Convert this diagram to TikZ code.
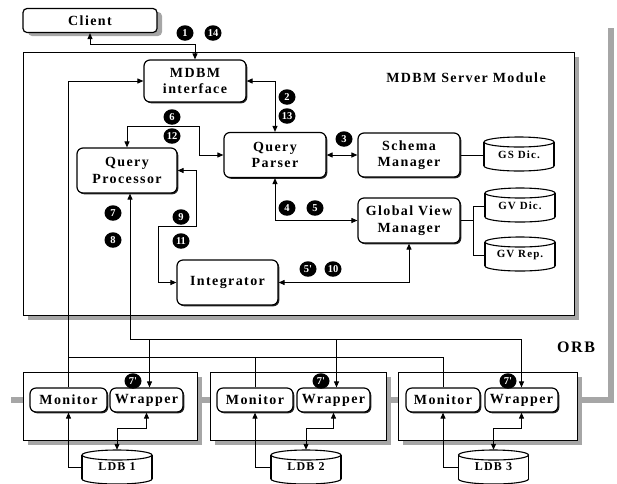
\documentclass[tikz,border=0pt]{standalone}
\usepackage{fontspec}
\setmainfont{Liberation Serif}[LetterSpace=10]
\newfontfamily\badgefont{Liberation Serif}
\usetikzlibrary{arrows.meta,shapes.geometric,shadows,calc}
\newcommand\dbcyl[2]{%
  \filldraw[dbline] (#1,#2+12) ellipse [x radius=35, y radius=5];
  \fill[white] (#1-35,#2-12) rectangle (#1+35,#2+12);
  \draw[dbline] (#1-35,#2-12) -- (#1-35,#2+12) (#1+35,#2-12) -- (#1+35,#2+12);
  \filldraw[dbline] (#1,#2-12) ellipse [x radius=35, y radius=5];
}
\begin{document}
\begin{tikzpicture}[x=1pt,y=-1pt,
  every node/.style={font=\fontsize{14}{16.5}\selectfont\bfseries, align=center},
  box/.style={draw, rounded corners=6pt, line width=1.2pt, fill=white, inner sep=0pt,
    drop shadow={shadow xshift=1.3pt, shadow yshift=-1.3pt, fill=black, opacity=0.85}},
  clientbox/.style={draw, rounded corners=4pt, line width=1.2pt, fill=white, inner sep=0pt,
    drop shadow={shadow xshift=5pt, shadow yshift=-3.5pt, fill=gray!70, opacity=1}},
  serverbox/.style={draw, line width=0.8pt, fill=white, inner sep=0pt,
    drop shadow={shadow xshift=5pt, shadow yshift=-5pt, fill=gray!70, opacity=1}},
  dbline/.style={line width=1.1pt, draw=black, fill=white},
  dbnode/.style={inner sep=0pt, minimum width=70pt, minimum height=34pt, font=\fontsize{11}{12}\selectfont\bfseries},
  conn/.style={line width=1pt},
  badge/.style={ellipse, fill=black, text=white, inner sep=0pt, outer sep=0pt,
    minimum width=17pt, minimum height=15.5pt,
    font=\badgefont\fontsize{10.5}{10.5}\selectfont\bfseries},
  orb/.style={line width=5.5pt, draw=gray!70},
  >={Triangle[length=6pt,width=5pt]}
]
\useasboundingbox (0,0) rectangle (617,483);

% big frames
\node[serverbox, minimum width=551pt, minimum height=263pt] (server) at (298.5,183.5) {};
\coordinate (orbL) at (11,400);
\coordinate (orbT) at (611,28);
\draw[orb] (orbL) -- (23,400);
\draw[orb] (200,400) -- (212,400);
\draw[orb] (386,400) -- (399,400);
\draw[orb] (578,400) -| (orbT);
\node[serverbox, minimum width=174pt, minimum height=68pt] (site1) at (110,406) {};
\node[serverbox, minimum width=176pt, minimum height=68pt] (site2) at (298,406) {};
\node[serverbox, minimum width=179pt, minimum height=68pt] (site3) at (487.5,406) {};

\node (title) at (466,78) {MDBM Server Module};
\node[font=\fontsize{16}{16}\selectfont\bfseries] (orblabel) at (576,347) {ORB};

% client and modules
\node[clientbox, minimum width=134pt, minimum height=24pt] (client) at (90,20.5) {Client};
\node[box, minimum width=102pt, minimum height=42pt] (mdbm) at (195,81) {MDBM\\interface};
\node[box, minimum width=100pt, minimum height=45pt] (qp) at (127,170.5) {Query\\Processor};
\node[box, minimum width=102pt, minimum height=45pt] (qparser) at (275,155) {Query\\Parser};
\node[box, minimum width=102pt, minimum height=44pt] (schema) at (409,155) {Schema\\Manager};
\node[box, minimum width=102pt, minimum height=45pt] (gvm) at (409,220.5) {Global View\\Manager};
\node[box, minimum width=101pt, minimum height=45pt] (integ) at (227.5,282.5) {Integrator};

% databases
\dbcyl{519}{154}
\node[dbnode] (gsdic) at (519,155) {GS Dic.};
\dbcyl{520}{205}
\node[dbnode] (gvdic) at (520,206) {GV Dic.};
\dbcyl{520}{254}
\node[dbnode] (gvrep) at (520,255) {GV Rep.};
\dbcyl{117}{467}
\node[dbnode, font=\fontsize{12}{12}\selectfont\bfseries] (ldb1) at (117,467) {LDB 1};
\dbcyl{306}{467}
\node[dbnode, font=\fontsize{12}{12}\selectfont\bfseries] (ldb2) at (306,467) {LDB 2};
\dbcyl{493.5}{467}
\node[dbnode, font=\fontsize{12}{12}\selectfont\bfseries] (ldb3) at (493.5,467) {LDB 3};

% local sites
\node[box, minimum width=77pt, minimum height=24pt] (mon1) at (68.5,400) {Monitor};
\node[box, minimum width=73pt, minimum height=24pt] (wrap1) at (146.5,400) {Wrapper};
\node[box, minimum width=76pt, minimum height=24pt] (mon2) at (255,400) {Monitor};
\node[box, minimum width=73pt, minimum height=24pt] (wrap2) at (333.5,400) {Wrapper};
\node[box, minimum width=74pt, minimum height=24pt] (mon3) at (443,400) {Monitor};
\node[box, minimum width=73pt, minimum height=24pt] (wrap3) at (521.5,400) {Wrapper};

% connectors
\draw[conn,<->] (client.south) -- ++(0,11) -| (mdbm.north);
\draw[conn,<->] (mdbm.east) -| (qparser.north);
\draw[conn,<->] (qp.north) -- ++(0,-21) -| ($(qparser.west)+(-24,0)$) -- (qparser.west);
\draw[conn,<->] (qparser.east) -- (schema.west);
\draw[conn] (schema.east) -- (gsdic.west);
\draw[conn,<->] (qparser.south) |- (gvm.west);
\draw[conn] (gvm.east) -- ++(13,0);
\draw[conn] (gvdic.west) -| ($(gvm.east)+(13,0)$) |- (gvrep.west);
\draw[conn,<->] (qp.east) -- ++(19,0) |- ++(-38,56) |- (integ.west);
\draw[conn,<->] (integ.east) -| (gvm.south);

% to monitors
\draw[conn,->] (mon1.north) |- (mdbm.west);
\draw[conn] (mon3.north) -- ++(0,-30) -| (mon1.north);
\draw[conn] (mon2.north) -- ++(0,-30);
% to wrappers
\coordinate (qpb) at ($(qp.south)+(3,0)$);
\draw[conn,<->] (qpb) |- ($(wrap3.north)+(0,-48)$) -- (wrap3.north);
\draw[conn,->] ($(wrap1.north)+(3,-48)$) -- ($(wrap1.north)+(3,0)$);
\draw[conn,->] ($(wrap2.north)+(3,-48)$) -- ($(wrap2.north)+(3,0)$);
% local databases
\draw[conn,<->] (wrap1.south) -- ++(0,16) -| (ldb1.north);
\draw[conn,<->] (wrap2.south) -- ++(0,16) -| (ldb2.north);
\draw[conn,<->] (wrap3.south) -- ++(0,16) -| (ldb3.north);
\draw[conn,->] (ldb1.west) -| (mon1.south);
\draw[conn,->] (ldb2.west) -| (mon2.south);
\draw[conn,->] (ldb3.west) -| (mon3.south);

% badges
\node[badge] (b1) at (185,33) {1};
\node[badge] (b14) at (213,33) {14};
\node[badge] (b2) at (287,97) {2};
\node[badge] (b13) at (287,116) {13};
\node[badge] (b6) at (172,117) {6};
\node[badge] (b12) at (172,136) {12};
\node[badge] (b3) at (344,139) {3};
\node[badge] (b4) at (287,208) {4};
\node[badge] (b5) at (315,208) {5};
\node[badge] (b7) at (113,213) {7};
\node[badge] (b8) at (113,240) {8};
\node[badge] (b9) at (181,217) {9};
\node[badge] (b11) at (181,241) {11};
\node[badge] (b5p) at (308,269) {5'};
\node[badge] (b10) at (333,269) {10};
\node[badge] (b7a) at (133,381) {7'};
\node[badge] (b7b) at (321,381) {7'};
\node[badge] (b7c) at (508,381) {7'};
\end{tikzpicture}
\end{document}
